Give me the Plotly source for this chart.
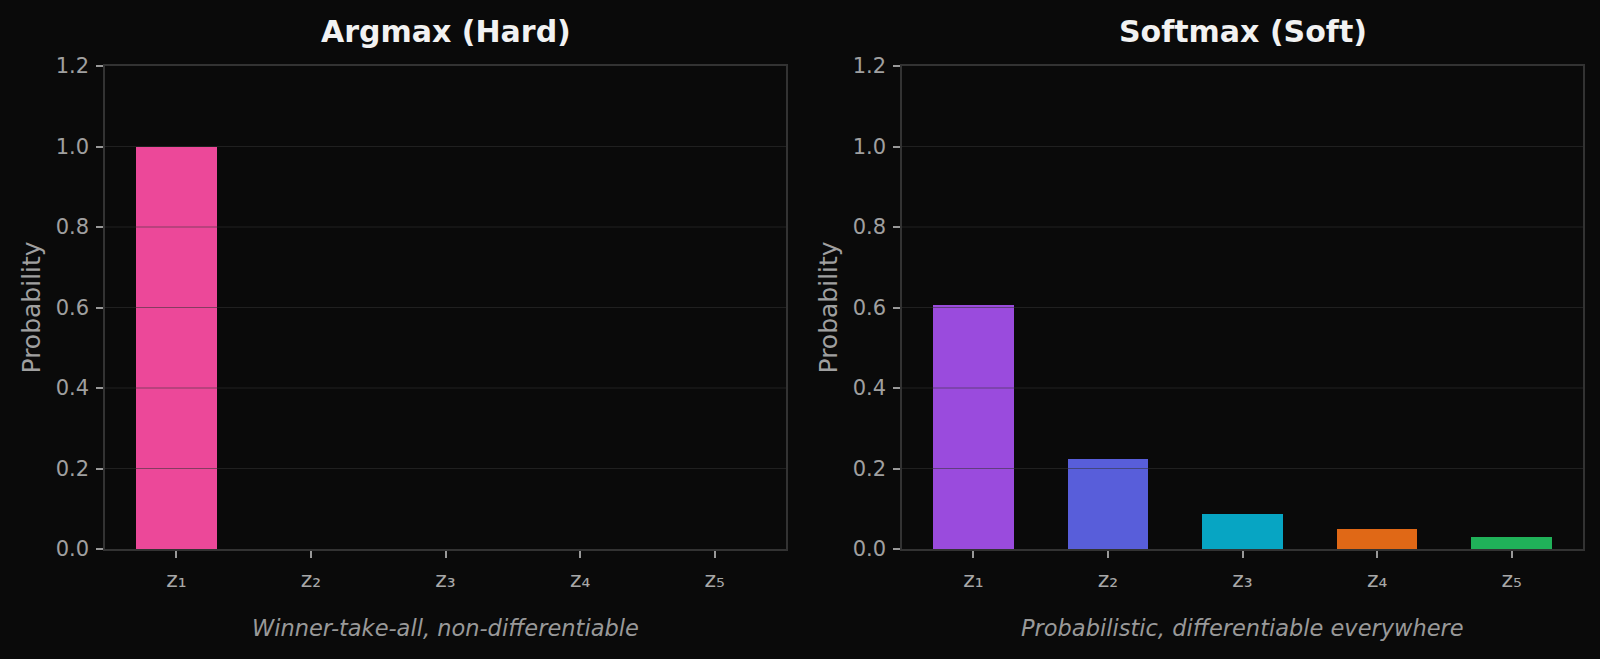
import plotly.graph_objects as go

categories = ["z₁", "z₂", "z₃", "z₄", "z₅"]
argmax_values = [1.0, 0.0, 0.0, 0.0, 0.0]
softmax_values = [0.606, 0.223, 0.088, 0.049, 0.030]
argmax_colors = ["#EC4899"] * 5
softmax_colors = ["#9A4BDD", "#585EDA", "#07A5C3", "#E06816", "#20B159"]
y_ticks = [0.0, 0.2, 0.4, 0.6, 0.8, 1.0, 1.2]
titles = ["Argmax (Hard)", "Softmax (Soft)"]
captions = ["Winner-take-all, non-differentiable", "Probabilistic, differentiable everywhere"]
y_label = "Probability"

BG = "#0a0a0a"
FONT = "DejaVu Sans"

fig = go.Figure()
xs = list(range(len(categories)))
fig.add_trace(go.Bar(x=xs, y=argmax_values, marker=dict(color=argmax_colors, line=dict(width=0)),
                     width=0.6, xaxis="x", yaxis="y", showlegend=False))
fig.add_trace(go.Bar(x=xs, y=softmax_values, marker=dict(color=softmax_colors, line=dict(width=0)),
                     width=0.6, xaxis="x2", yaxis="y2", showlegend=False))

domains = [[105 / 1600, 786 / 1600], [902 / 1600, 1583 / 1600]]
ydom = [1 - 549 / 659, 1 - 66 / 659]

common_x = dict(
    range=[-0.53, 4.53], tickmode="array", tickvals=xs, ticktext=categories, automargin=False,
    showgrid=False, zeroline=False, showline=True, linecolor="#333333", linewidth=1.5, mirror=True,
    ticks="outside", ticklen=7, tickwidth=1.5, tickcolor="#999999", ticklabelstandoff=3,
    tickfont=dict(family=FONT, size=22, color="#a8a8a8"),
)
common_y = dict(
    range=[0, 1.2], tickmode="array", tickvals=y_ticks, ticktext=[f"{v:.1f}" for v in y_ticks],
    automargin=False,
    showgrid=False, zeroline=False, showline=True, linecolor="#333333", linewidth=1.5, mirror=True,
    ticks="outside", ticklen=7, tickwidth=1.5, tickcolor="#999999", ticklabelstandoff=3,
    tickfont=dict(family=FONT, size=21, color="#a0a0a0"),
)

fig.update_layout(
    width=1600, height=659, margin=dict(l=0, r=0, t=0, b=0, autoexpand=False),
    paper_bgcolor=BG, plot_bgcolor=BG, bargap=0,
    xaxis=dict(domain=domains[0], anchor="y", **common_x),
    yaxis=dict(domain=ydom, anchor="x", **common_y),
    xaxis2=dict(domain=domains[1], anchor="y2", **common_x),
    yaxis2=dict(domain=ydom, anchor="x2", **common_y),
)

shapes = []
for xr, yr in [("x domain", "y"), ("x2 domain", "y2")]:
    for v in y_ticks:
        if 0 < v < 1.2:
            shapes.append(dict(type="line", xref=xr, yref=yr, x0=0, x1=1, y0=v, y1=v,
                               line=dict(color="rgba(51,51,51,0.55)", width=1.2), layer="above"))
fig.update_layout(shapes=shapes)

annotations = []
for i in range(2):
    cx = (domains[i][0] + domains[i][1]) / 2
    annotations.append(dict(text=f"<b>{titles[i]}</b>", x=cx, y=1 - 32 / 659, xref="paper", yref="paper",
                            showarrow=False, xanchor="center", yanchor="middle",
                            font=dict(family=FONT, size=30, color="#f2f2f2")))
    annotations.append(dict(text=f"<i>{captions[i]}</i>", x=cx, y=1 - 628 / 659, xref="paper", yref="paper",
                            showarrow=False, xanchor="center", yanchor="middle",
                            font=dict(family=FONT, size=22.5, color="#999999")))
    lx = [31 / 1600, 828 / 1600][i]
    annotations.append(dict(text=y_label, x=lx, y=(ydom[0] + ydom[1]) / 2, xref="paper", yref="paper",
                            showarrow=False, xanchor="center", yanchor="middle", textangle=-90,
                            font=dict(family=FONT, size=25, color="#a0a0a0")))
fig.update_layout(annotations=annotations)

fig.write_html("out.html")
